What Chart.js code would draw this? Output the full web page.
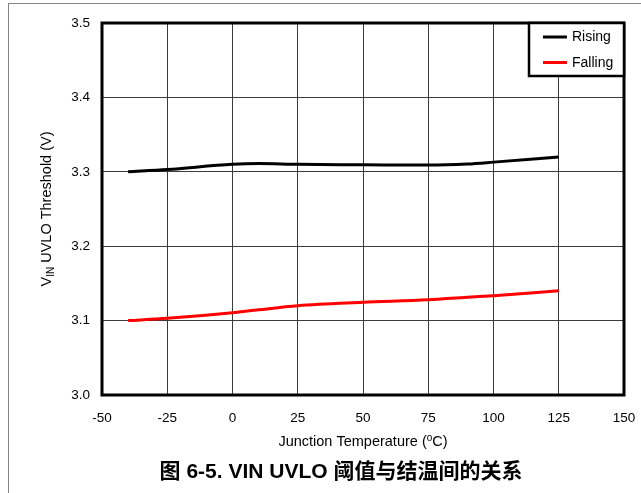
<!DOCTYPE html>
<html>
<head>
<meta charset="utf-8">
<script src="https://cdn.jsdelivr.net/npm/chart.js@4/dist/chart.umd.min.js"></script>
<style>
  html, body { margin: 0; padding: 0; background: #fff; }
  #wrap { position: relative; width: 641px; height: 493px; overflow: hidden; }
  #frame { position: absolute; left: 8px; top: 3px; width: 700px; height: 600px;
           border-left: 1px solid #858585; border-top: 1px solid #858585; }
  #c { position: absolute; left: 0; top: 0; }
</style>
</head>
<body>
<div id="wrap">
  <div id="frame"></div>
  <canvas id="c" width="641" height="493"></canvas>
</div>
<script>
// Junction temperature (°C) sample points
const temps   = [-40, -25, 0, 10, 25, 50, 75, 90, 100, 125];
// UVLO threshold (V)
const rising  = [3.300, 3.303, 3.310, 3.311, 3.310, 3.3095, 3.309, 3.3105, 3.313, 3.320];
const falling = [3.100, 3.103, 3.1105, 3.1145, 3.120, 3.1245, 3.128, 3.1315, 3.1335, 3.140];

const xTicks = [-50, -25, 0, 25, 50, 75, 100, 125, 150];
const yTicks = [3.0, 3.1, 3.2, 3.3, 3.4, 3.5];

const seriesNames  = ['Rising', 'Falling'];
const seriesColors = ['#000000', '#ff0000'];

const FONT = '"Liberation Sans", Arial, sans-serif';

function pts(ys) { return temps.map((t, i) => ({ x: t, y: ys[i] })); }

const decorations = {
  id: 'decorations',
  afterDatasetsDraw(chart) {
    const { ctx, chartArea: a } = chart;
    ctx.save();
    // plot frame
    ctx.lineWidth = 3;
    ctx.strokeStyle = '#000';
    ctx.strokeRect(a.left, a.top, a.right - a.left, a.bottom - a.top);

    // legend box in the upper-right corner
    const bx = 529, bw = a.right - bx, by = a.top, bh = 53;
    ctx.fillStyle = '#fff';
    ctx.fillRect(bx, by, bw, bh);
    ctx.lineWidth = 2.5;
    ctx.strokeRect(bx, by, bw, bh);
    ctx.font = '14px ' + FONT;
    ctx.textBaseline = 'middle';
    ctx.textAlign = 'left';
    chart.data.datasets.forEach((ds, i) => {
      const y = by + 14 + i * 25.5;
      ctx.strokeStyle = ds.borderColor;
      ctx.lineWidth = 3;
      ctx.beginPath();
      ctx.moveTo(543, y);
      ctx.lineTo(567, y);
      ctx.stroke();
      ctx.fillStyle = '#000';
      ctx.fillText(ds.label, 572, y + 0.5);
    });
    ctx.restore();
  },
  afterDraw(chart) {
    const { ctx, chartArea: a } = chart;
    ctx.save();
    ctx.fillStyle = '#000';

    // y-axis title with subscript
    const big = '14.5px ' + FONT, small = '10px ' + FONT;
    const parts = [['V', big, 0], ['IN', small, 3], [' UVLO Threshold (V)', big, 0]];
    let total = 0;
    parts.forEach(p => { ctx.font = p[1]; total += ctx.measureText(p[0]).width; });
    ctx.translate(51, (a.top + a.bottom) / 2);
    ctx.rotate(-Math.PI / 2);
    ctx.textBaseline = 'alphabetic';
    ctx.textAlign = 'left';
    let px = -total / 2;
    parts.forEach(p => {
      ctx.font = p[1];
      ctx.fillText(p[0], px, p[2]);
      px += ctx.measureText(p[0]).width;
    });
    ctx.setTransform(1, 0, 0, 1, 0, 0);

    // x-axis title with superscript degree mark
    const xparts = [['Junction Temperature (', big, 0], ['o', small, -5], ['C)', big, 0]];
    total = 0;
    xparts.forEach(p => { ctx.font = p[1]; total += ctx.measureText(p[0]).width; });
    px = (a.left + a.right) / 2 - total / 2;
    xparts.forEach(p => {
      ctx.font = p[1];
      ctx.fillText(p[0], px, 446 + p[2]);
      px += ctx.measureText(p[0]).width;
    });

    // figure caption
    ctx.font = 'bold 21px "Liberation Sans", Arial, "Noto Sans CJK SC", sans-serif';
    ctx.textAlign = 'center';
    ctx.textBaseline = 'middle';
    ctx.fillText('图 6-5. VIN UVLO 阈值与结温间的关系', 341, 472);
    ctx.restore();
  }
};

new Chart(document.getElementById('c'), {
  type: 'line',
  data: {
    datasets: [
      { label: seriesNames[0], data: pts(rising),  borderColor: seriesColors[0], borderWidth: 3,
        pointRadius: 0, cubicInterpolationMode: 'monotone', fill: false },
      { label: seriesNames[1], data: pts(falling), borderColor: seriesColors[1], borderWidth: 3,
        pointRadius: 0, cubicInterpolationMode: 'monotone', fill: false }
    ]
  },
  options: {
    responsive: false,
    animation: false,
    devicePixelRatio: 1,
    layout: { padding: { left: 0, right: 17, top: 23, bottom: 0 } },
    plugins: { legend: { display: false }, tooltip: { enabled: false }, title: { display: false } },
    scales: {
      x: {
        type: 'linear',
        min: xTicks[0], max: xTicks[xTicks.length - 1],
        afterBuildTicks: s => { s.ticks = xTicks.map(v => ({ value: v })); },
        afterFit: s => { s.height = 98; s.paddingLeft = 0; s.paddingRight = 0; },
        grid: { color: '#3a3a3a', lineWidth: 1, drawTicks: false },
        border: { display: false },
        ticks: { color: '#000', font: { family: FONT, size: 13.5 }, padding: 15, maxRotation: 0,
                 callback: v => String(v) }
      },
      y: {
        type: 'linear',
        min: yTicks[0], max: yTicks[yTicks.length - 1],
        afterBuildTicks: s => { s.ticks = yTicks.map(v => ({ value: v })); },
        afterFit: s => { s.width = 102; s.paddingTop = 0; s.paddingBottom = 0; },
        grid: { color: '#3a3a3a', lineWidth: 1, drawTicks: false },
        border: { display: false },
        ticks: { color: '#000', font: { family: FONT, size: 13.5 }, padding: 12,
                 callback: v => Number(v).toFixed(1) }
      }
    }
  },
  plugins: [decorations]
});
</script>
</body>
</html>
